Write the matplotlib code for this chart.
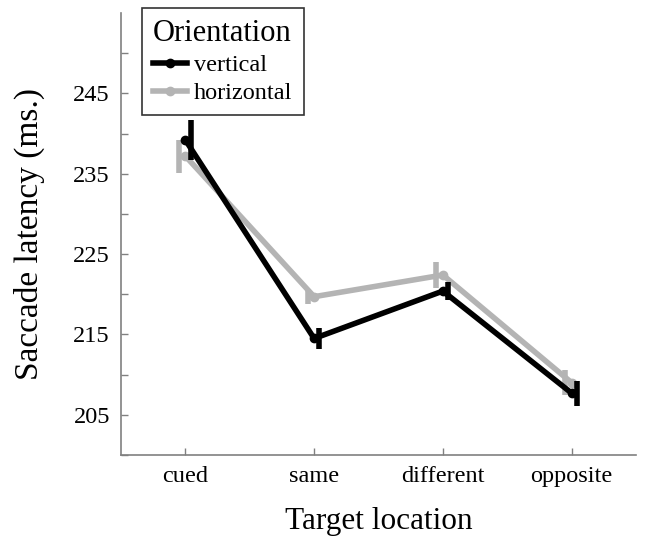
import numpy as np
import matplotlib
matplotlib.use("Agg")
import matplotlib.pyplot as plt

plt.rcParams['font.family'] = ['Liberation Serif', 'DejaVu Serif']

locations = ['cued', 'same', 'different', 'opposite']
vertical = [239.2, 214.5, 220.4, 207.7]
vertical_err = [2.5, 1.3, 1.1, 1.55]
horizontal = [237.2, 219.7, 222.4, 209.0]
horizontal_err = [2.05, 0.95, 1.6, 1.55]

x = np.arange(1, len(locations) + 1)
gray = '#b4b4b4'

fig = plt.figure(figsize=(6.45, 5.46), dpi=100)
ax = fig.add_axes([121 / 645, 1 - 455 / 546, (636 - 121) / 645, (455 - 13) / 546])

# horizontal first so the black line sits on top
ax.errorbar(x - 0.05, horizontal, yerr=horizontal_err, fmt='none', ecolor=gray,
            elinewidth=4, capsize=0)
h_line, = ax.plot(x, horizontal, color=gray, lw=4, marker='o', ms=6,
                  label='horizontal')
ax.errorbar(x + 0.04, vertical, yerr=vertical_err, fmt='none', ecolor='black',
            elinewidth=4, capsize=0)
v_line, = ax.plot(x, vertical, color='black', lw=4, marker='o', ms=6,
                  label='vertical')

ax.set_xlim(0.5, 4.5)
ax.set_ylim(200, 255)
ax.set_xticks(x)
ax.set_xticklabels(locations)
yt = np.arange(200, 251, 5)
ax.set_yticks(yt)
ax.set_yticklabels([str(v) if v % 10 == 5 else '' for v in yt])
ax.tick_params(direction='in', length=5, width=1, color='#808080',
               labelsize=17.5, pad=8)

for side in ['top', 'right']:
    ax.spines[side].set_visible(False)
for side in ['left', 'bottom']:
    ax.spines[side].set_color('#808080')
    ax.spines[side].set_linewidth(1.2)

ax.set_xlabel('Target location', fontsize=22.5, labelpad=14)
ax.set_ylabel('Saccade latency (ms.)', fontsize=24, labelpad=20)

leg = ax.legend(handles=[v_line, h_line], title='Orientation',
                loc='upper left', bbox_to_anchor=(142 / 645, 1 - 8 / 546),
                bbox_transform=fig.transFigure, borderaxespad=0,
                fontsize=17.5, title_fontsize=22, frameon=True, fancybox=False,
                edgecolor='black', handlelength=1.4, handletextpad=0.3,
                labelspacing=0.25, borderpad=0.45, alignment='left')
leg.get_frame().set_linewidth(1.2)

fig.savefig('out.png', dpi=100, facecolor='white')
